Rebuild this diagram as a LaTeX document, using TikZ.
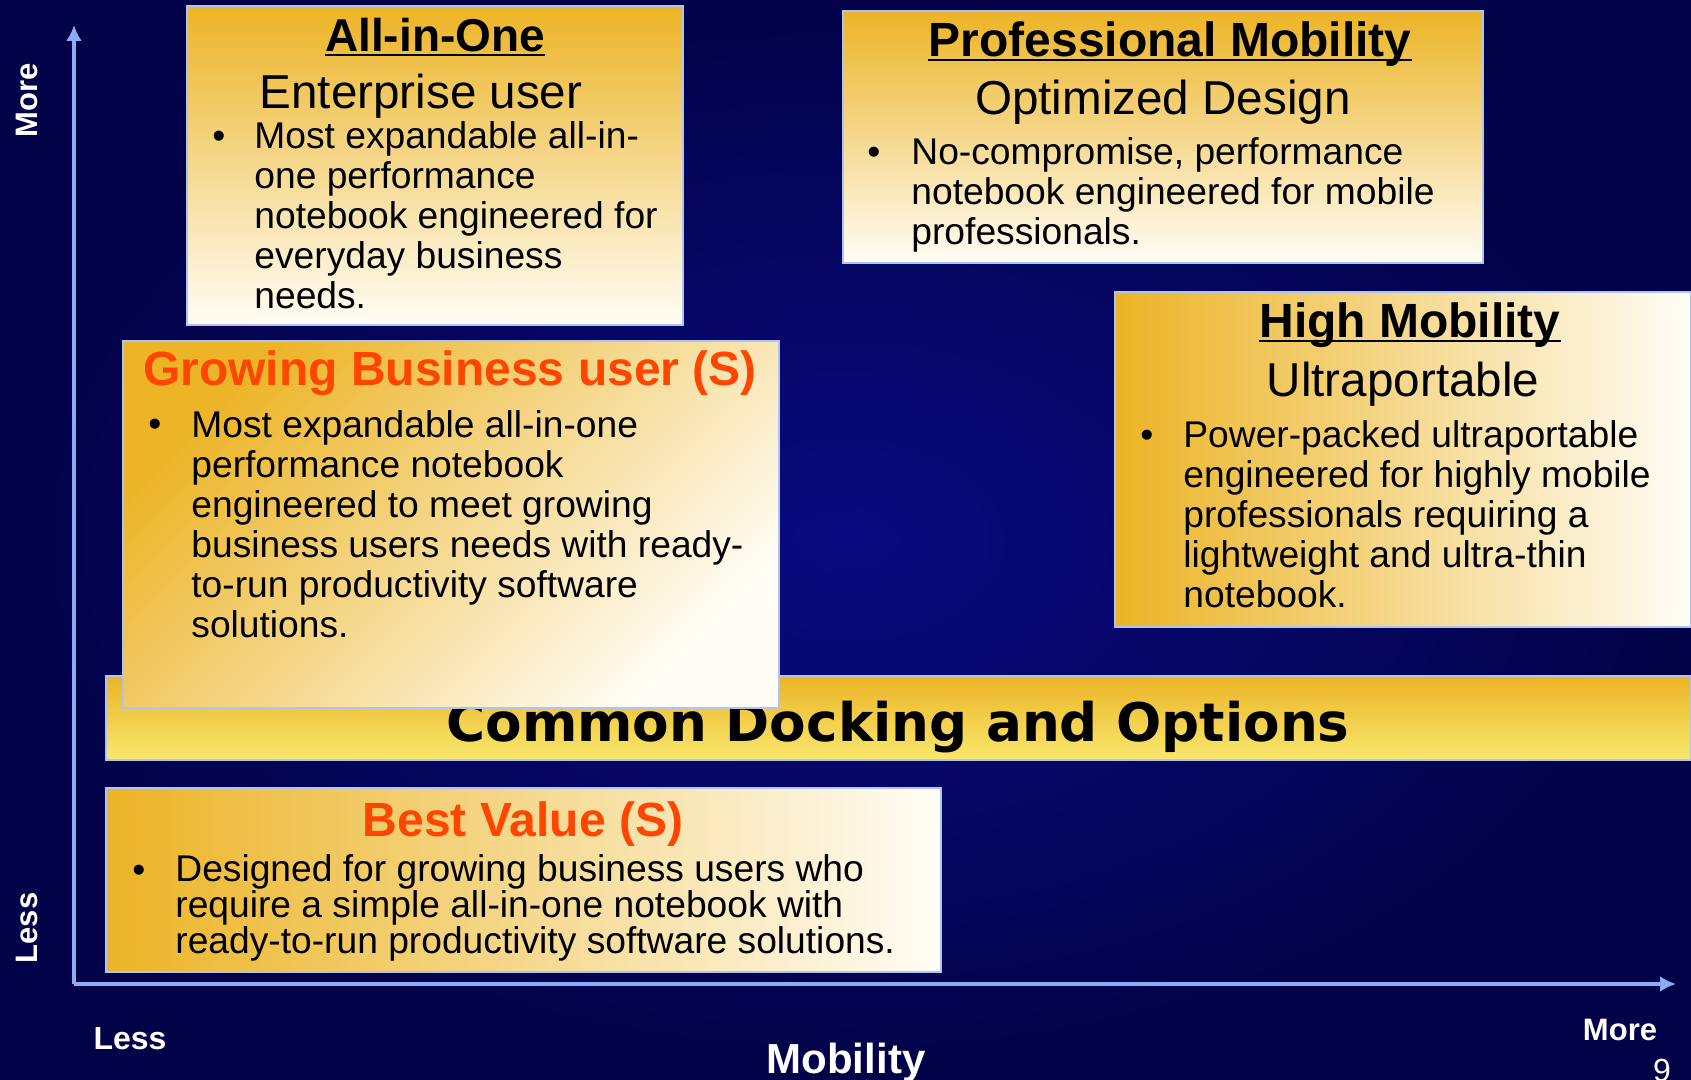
\documentclass[tikz,border=0pt]{standalone}
\usepackage{fontspec}
\setmainfont{Liberation Sans}
\newfontfamily\djvsans{DejaVu Sans}
\usetikzlibrary{arrows.meta}

\definecolor{navylo}{RGB}{2,2,72}
\definecolor{navyhi}{RGB}{10,10,128}
\definecolor{gold}{RGB}{236,180,38}
\definecolor{cream}{RGB}{255,253,246}
\definecolor{lemon}{RGB}{248,232,110}
\definecolor{rim}{RGB}{176,196,238}
\definecolor{axisblue}{RGB}{140,172,242}
\definecolor{flame}{RGB}{255,70,0}

\newcommand{\bodyfont}{\fontsize{18.6}{20}\selectfont}
\newcommand{\headfont}{\fontsize{24}{26}\selectfont\bfseries}
\newcommand{\subfont}{\fontsize{23.8}{26}\selectfont}

\begin{document}
\begin{tikzpicture}[x=0.5pt,y=-0.5pt,
  panel/.style={draw=rim, line width=0.8pt},
  head/.style={anchor=base, font=\headfont},
  sub/.style={anchor=base, font=\subfont},
  body/.style={anchor=base west, align=left, font=\bodyfont},
  dot/.style={anchor=base west, font=\bodyfont},
  uline/.style={line width=1.3pt},
  axis/.style={draw=axisblue, line width=2pt, -{Latex[length=8pt,width=8pt]}},
  axlabel/.style={anchor=base, text=white, font=\bfseries\fontsize{15.5}{18}\selectfont}]
 \useasboundingbox (0,0) rectangle (1691,1080);
 \shade[inner color=navyhi, outer color=navylo] (0,0) rectangle (1691,1080);

 \coordinate (origin) at (74,984);
 \coordinate (ytip) at (74,25);
 \coordinate (xtip) at (1676,984);
 \draw[axis] (origin) -- (ytip);
 \draw[axis] (origin) -- (xtip);

 \begin{scope}[every node/.style={inner sep=0pt}]
   \node (ymore) [axlabel, rotate=90] at (37,100) {More};
   \node (yless) [axlabel, rotate=90] at (37,928) {Less};
   \node (xless) [axlabel, font=\bfseries\fontsize{16}{18}\selectfont] at (130,1049) {Less};
   \node (xname) [axlabel, font=\bfseries\fontsize{21}{24}\selectfont] at (846,1073) {Mobility};
   \node (xmore) [axlabel] at (1620,1040) {More};
   \node (pageno) [anchor=base, text=white, font=\fontsize{16}{18}\selectfont] at (1662,1081) {9};

   \draw[panel, top color=gold, bottom color=lemon] (106,676) rectangle (1691,760);
   \node (dock) [anchor=base, font=\djvsans\bfseries\fontsize{26.6}{30}\selectfont] at (898,741) {Common Docking and Options};

   \draw[panel, top color=gold, bottom color=cream] (187,6) rectangle (683,325);
   \node (aiohead) [head, font=\bfseries\fontsize{23}{26}\selectfont] at (435,52) {All-in-One};
   \node (aiosub) [sub] at (421,109) {Enterprise user};
   \node (aiodot) [dot] at (212,149) {\textbullet};
   \node (aiobody) [body] at (254,309) {Most expandable all-in-\\one performance\\notebook engineered for\\everyday business\\needs.};

   \draw[panel, top color=gold, bottom color=cream] (843,11) rectangle (1483,263);
   \node (prohead) [head] at (1170,57) {Professional Mobility};
   \node (prosub) [sub] at (1163,115) {Optimized Design};
   \node (prodot) [dot] at (867,165) {\textbullet};
   \node (probody) [body] at (911,245) {No-compromise, performance\\notebook engineered for mobile\\professionals.};

   \draw[panel, left color=gold, right color=cream] (1115,292) rectangle (1691,627);
   \node (highhead) [head] at (1410,338) {High Mobility};
   \node (highsub) [sub] at (1403,397) {Ultraportable};
   \node (highdot) [dot] at (1140,447) {\textbullet};
   \node (highbody) [body] at (1183,607) {Power-packed ultraportable\\engineered for highly mobile\\professionals requiring a\\lightweight and ultra-thin\\notebook.};

   \draw[panel, top color=gold, bottom color=cream, shading angle=45] (123,341) rectangle (779,708);
   \node (growhead) [head, text=flame] at (450,386) {Growing Business user (S)};
   \node (growdot) [dot] at (148,437) {\textbullet};
   \node (growbody) [body] at (191,637) {Most expandable all-in-one\\performance notebook\\engineered to meet growing\\business users needs with ready-\\to-run productivity software\\solutions.};

   \draw[panel, left color=gold, right color=cream] (106,788) rectangle (941,972);
   \node (besthead) [head, text=flame] at (523,836) {Best Value (S)};
   \node (bestdot) [dot] at (132,882) {\textbullet};
   \node (bestbody) [body, font=\fontsize{18.6}{17.8}\selectfont] at (175,953) {Designed for growing business users who\\require a simple all-in-one notebook with\\ready-to-run productivity software solutions.};
 \end{scope}

 \draw[uline] ([yshift=-1.5pt]aiohead.base west) -- ([yshift=-1.5pt]aiohead.base east);
 \draw[uline] ([yshift=-1.5pt]prohead.base west) -- ([yshift=-1.5pt]prohead.base east);
 \draw[uline] ([yshift=-1.5pt]highhead.base west) -- ([yshift=-1.5pt]highhead.base east);
\end{tikzpicture}
\end{document}
